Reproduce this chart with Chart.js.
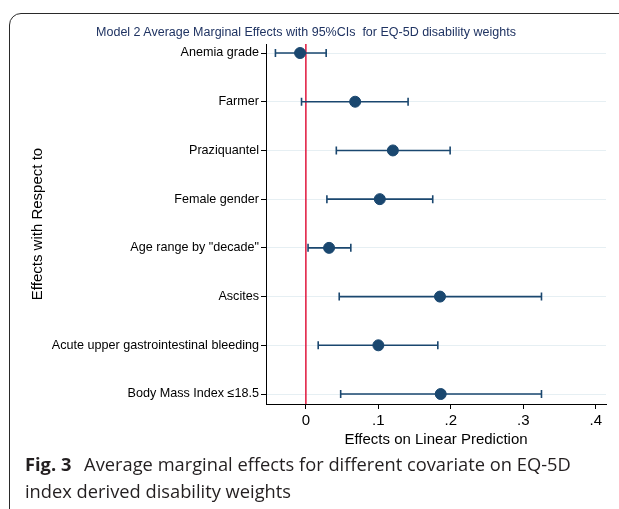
<!DOCTYPE html>
<html>
<head>
<meta charset="utf-8">
<script src="https://cdn.jsdelivr.net/npm/chart.js@4"></script>
<style>
  html, body { margin: 0; padding: 0; background: #fff; overflow: hidden; }
  body { width: 619px; height: 509px; position: relative; }
  #frame { position: absolute; left: 9px; top: 13px; right: -20px; bottom: -20px;
           border: 1px solid #2a2a2a; border-top-left-radius: 12px; }
  #wrap { position: absolute; left: 0; top: 0; width: 619px; height: 452px; }
  #title { position: absolute; left: 0; width: 612px; top: 25px; text-align: center;
           font: 12.5px "Liberation Sans", Arial, sans-serif; color: #1f3362; white-space: pre; }
  #caption { position: absolute; left: 25px; top: 450px; width: 580px;
             font: 18.3px "Open Sans", "Noto Sans", sans-serif; color: #231f20; line-height: 27px; }
  #caption b { font-weight: 700; margin-right: 8px; }
</style>
</head>
<body>
<div id="frame"></div>
<div id="wrap"><canvas id="c"></canvas></div>
<div id="title">Model 2 Average Marginal Effects with 95%CIs  for EQ-5D disability weights</div>
<div id="caption"><b>Fig. 3</b> Average marginal effects for different covariate on EQ-5D index derived disability weights</div>
<script>
const categories = ["Anemia grade", "Farmer", "Praziquantel", "Female gender",
  "Age range by \"decade\"", "Ascites", "Acute upper gastrointestinal bleeding", "Body Mass Index \u226418.5"];
const estimates = [-0.008, 0.068, 0.120, 0.102, 0.032, 0.185, 0.100, 0.186];
const lowerCI   = [-0.042, -0.006, 0.042, 0.029, 0.003, 0.046, 0.017, 0.048];
const upperCI   = [0.028, 0.141, 0.199, 0.175, 0.062, 0.325, 0.182, 0.325];
const xTicks = [0, 0.1, 0.2, 0.3, 0.4];
const xTickLabels = ["0", ".1", ".2", ".3", ".4"];
const referenceValue = 0;

const navy = '#1a476f';
const fontFam = '"Liberation Sans", Arial, sans-serif';

const errorBars = {
  id: 'errorBars',
  beforeDatasetsDraw(chart) {
    const {ctx, scales: {x, y}, chartArea} = chart;
    ctx.save();
    const rx = x.getPixelForValue(referenceValue);
    ctx.strokeStyle = '#e0163c';
    ctx.lineWidth = 1.5;
    ctx.beginPath();
    ctx.moveTo(rx, chartArea.top);
    ctx.lineTo(rx, chartArea.bottom);
    ctx.stroke();
    ctx.strokeStyle = navy;
    ctx.lineWidth = 1.6;
    const cap = 4;
    for (let i = 0; i < categories.length; i++) {
      const py = y.getPixelForValue(i);
      const x1 = x.getPixelForValue(lowerCI[i]);
      const x2 = x.getPixelForValue(upperCI[i]);
      ctx.beginPath();
      ctx.moveTo(x1, py); ctx.lineTo(x2, py);
      ctx.moveTo(x1, py - cap); ctx.lineTo(x1, py + cap);
      ctx.moveTo(x2, py - cap); ctx.lineTo(x2, py + cap);
      ctx.stroke();
    }
    ctx.restore();
  }
};

new Chart(document.getElementById('c'), {
  type: 'scatter',
  data: {
    datasets: [{
      data: estimates.map((v, i) => ({x: v, y: i})),
      backgroundColor: navy,
      borderColor: navy,
      pointRadius: 5.5,
      pointHoverRadius: 5.5
    }]
  },
  options: {
    responsive: true,
    maintainAspectRatio: false,
    animation: false,
    layout: { padding: { top: 44, right: 13, left: 0, bottom: 0 } },
    plugins: { legend: { display: false }, tooltip: { enabled: false }, title: { display: false } },
    scales: {
      x: {
        type: 'linear',
        min: -0.055, max: 0.414,
        afterBuildTicks(s) { s.ticks = xTicks.map(v => ({value: v})); },
        afterFit(s) { s.height = 48; },
        ticks: {
          callback: (v) => { const k = xTicks.indexOf(v); return k >= 0 ? xTickLabels[k] : ''; },
          font: { family: fontFam, size: 15 },
          color: '#000', padding: 3, maxRotation: 0, autoSkip: false
        },
        grid: { drawOnChartArea: false, tickLength: 5, tickColor: '#000', color: '#000' },
        border: { color: '#000', width: 1 },
        title: { display: true, text: 'Effects on Linear Prediction',
                 font: { family: fontFam, size: 15 },
                 color: '#000', padding: { top: 0, bottom: 3 } }
      },
      y: {
        type: 'linear',
        reverse: true,
        min: -0.185, max: 7.205,
        afterBuildTicks(s) { s.ticks = categories.map((c, i) => ({value: i})); },
        afterFit(s) { s.width = 266; },
        ticks: {
          callback: (v) => categories[v] !== undefined ? categories[v] : '',
          font: { family: fontFam, size: 12.6 },
          color: '#000', padding: 2, autoSkip: false
        },
        grid: { color: '#e6eff3', lineWidth: 1, tickLength: 5, tickColor: '#000' },
        border: { color: '#000', width: 1 },
        title: { display: true, text: 'Effects with Respect to',
                 font: { family: fontFam, size: 15 },
                 color: '#000', padding: { top: 29, bottom: 0 } }
      }
    }
  },
  plugins: [errorBars]
});
</script>
</body>
</html>
